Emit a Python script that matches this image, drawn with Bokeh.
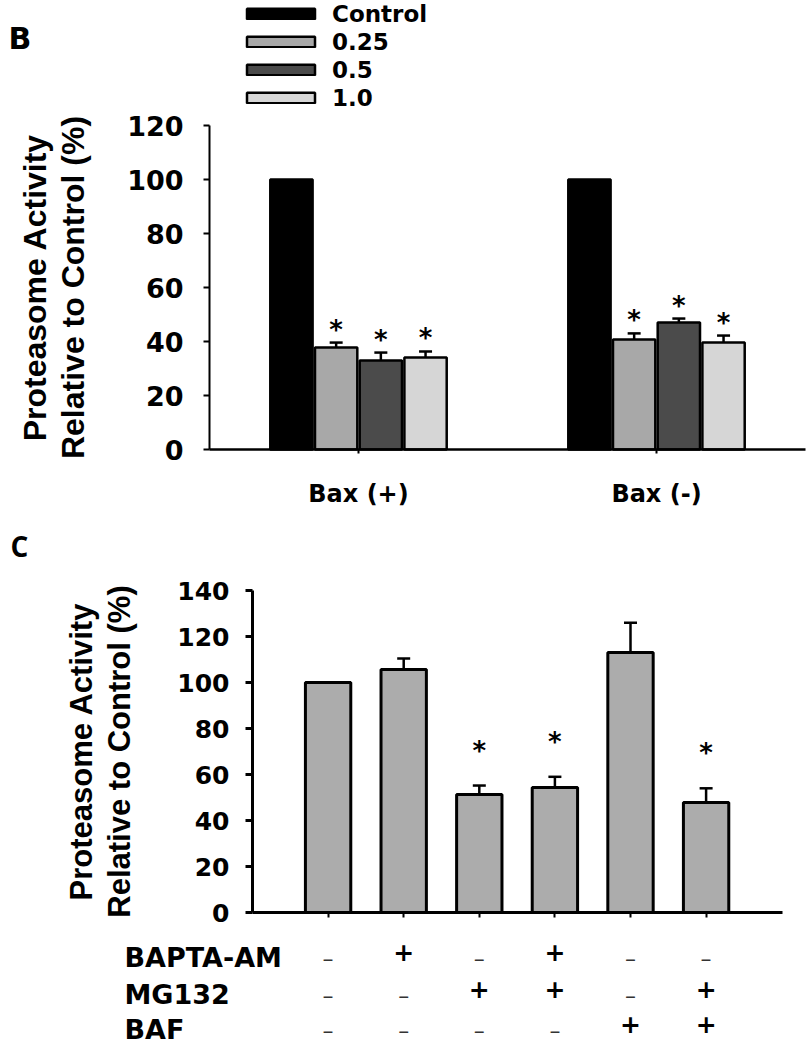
from bokeh.plotting import figure
from bokeh.models import (ColumnDataSource, Whisker, TeeHead, Legend, LegendItem,
                          FixedTicker, Label, Range1d)
from bokeh.layouts import column
from bokeh.embed import file_html
from bokeh.resources import INLINE
from bokeh.core.properties import value

# ---------------- data: panel B ----------------
groups = ["Bax (+)", "Bax (-)"]
doses = ["Control", "0.25", "0.5", "1.0"]
bax_plus = [100.0, 37.8, 33.0, 34.1]
bax_plus_err = [0.0, 1.8, 2.9, 2.2]
bax_minus = [100.0, 40.7, 47.0, 39.6]
bax_minus_err = [0.0, 2.3, 1.5, 2.6]
bax_plus_sig = [False, True, True, True]
bax_minus_sig = [False, True, True, True]
b_yticks = [0, 20, 40, 60, 80, 100, 120]

# ---------------- data: panel C ----------------
c_values = [100.0, 105.6, 51.3, 54.3, 113.0, 47.8]
c_err = [0.0, 4.8, 3.9, 4.7, 13.0, 6.2]
c_sig = [False, False, True, True, False, True]
bapta = ["\u2013", "+", "\u2013", "+", "\u2013", "\u2013"]
mg132 = ["\u2013", "\u2013", "+", "+", "\u2013", "+"]
baf = ["\u2013", "\u2013", "\u2013", "\u2013", "+", "+"]
row_names = ["BAPTA-AM", "MG132", "BAF"]
c_yticks = [0, 20, 40, 60, 80, 100, 120, 140]

# ---------------- styles ----------------
dose_colors = ["#000000", "#a8a8a8", "#4b4b4b", "#d6d6d6"]
c_color = "#acacac"
BOLD = "DejaVu Sans"
TITLE_FONT = "Liberation Sans"
W = 807


def style_axis(ax, label_size, tick_out, standoff, line_w, tick_w):
    ax.major_label_text_font = BOLD
    ax.major_label_text_font_style = "bold"
    ax.major_label_text_font_size = label_size
    ax.major_label_text_color = "black"
    ax.major_label_standoff = standoff
    ax.major_tick_out = tick_out
    ax.major_tick_in = 0
    ax.minor_tick_out = 0
    ax.minor_tick_in = 0
    ax.axis_line_width = line_w
    ax.axis_line_color = "black"
    ax.major_tick_line_width = tick_w
    ax.major_tick_line_color = "black"


def make_fig(h, xr, yr):
    p = figure(width=W, height=h, x_range=Range1d(*xr), y_range=Range1d(*yr),
               output_backend="svg", toolbar_location=None,
               min_border_left=0, min_border_right=0,
               min_border_top=0, min_border_bottom=0)
    p.grid.visible = False
    p.outline_line_color = None
    return p


# ================= Panel B =================
B_H = 515
B_PXU, B_PYU = 298.0, 2.7          # pixels per data unit
B_X1, B_Y0 = 358.0, 449.0          # pixel of x=1 and of y=0


def b_data(px, py):
    return 1 + (px - B_X1) / B_PXU, (B_Y0 - py) / B_PYU


bx0, _ = b_data(0, 0)
bx1, _ = b_data(W, 0)
_, by0 = b_data(0, B_H)
_, by1 = b_data(0, 0)
pB = make_fig(B_H, (bx0, bx1), (by0, by1))

offsets = [-0.225, -0.075, 0.075, 0.225]
bar_renderers = []
for i, d in enumerate(doses):
    xs = [g + 1 + offsets[i] for g in range(len(groups))]
    tops = [bax_plus[i], bax_minus[i]]
    errs = [bax_plus_err[i], bax_minus_err[i]]
    sigs = [bax_plus_sig[i], bax_minus_sig[i]]
    src = ColumnDataSource(dict(x=xs, top=tops))
    r = pB.vbar(x="x", top="top", bottom=0, width=0.142, source=src,
                fill_color=dose_colors[i], line_color="black", line_width=2.5)
    bar_renderers.append(r)
    ex = [x for x, e in zip(xs, errs) if e > 0]
    if ex:
        esrc = ColumnDataSource(dict(
            x=ex,
            lower=[t for t, e in zip(tops, errs) if e > 0],
            upper=[t + e for t, e in zip(tops, errs) if e > 0]))
        pB.add_layout(Whisker(base="x", lower="lower", upper="upper", source=esrc,
                              lower_head=None,
                              upper_head=TeeHead(size=13, line_width=2.5),
                              line_width=2.5))
    sx = [x for x, s in zip(xs, sigs) if s]
    if sx:
        ssrc = ColumnDataSource(dict(
            x=sx, y=[t + e for t, e, s in zip(tops, errs, sigs) if s],
            star=["*"] * len(sx)))
        pB.text(x="x", y="y", text="star", source=ssrc, text_align="center",
                text_baseline="middle", y_offset=-13,
                text_font=value(BOLD), text_font_style="bold",
                text_font_size="26px", text_color="black")

LEG_ITEM_H, LEG_SPACING = 27, 1
leg_h = len(doses) * LEG_ITEM_H + (len(doses) - 1) * LEG_SPACING
legend = Legend(items=[LegendItem(label=value(d), renderers=[r])
                       for d, r in zip(doses, bar_renderers)],
                location=(238, B_H - leg_h), orientation="vertical",
                padding=0, margin=0, spacing=LEG_SPACING,
                glyph_width=85, glyph_height=13, label_standoff=9,
                label_height=LEG_ITEM_H, label_text_font=BOLD,
                label_text_font_style="bold", label_text_font_size="23px",
                label_text_color="black",
                border_line_color=None, background_fill_alpha=0)
pB.add_layout(legend)

y_axis_x, _ = b_data(209, 0)
x_axis_end, _ = b_data(805, 0)

yax = pB.yaxis[0]
yax.fixed_location = y_axis_x
yax.bounds = (0, 120)
yax.ticker = FixedTicker(ticks=b_yticks)
yax.axis_label = "Proteasome Activity\nRelative to Control (%)"
yax.axis_label_text_font = TITLE_FONT
yax.axis_label_text_font_style = "bold"
yax.axis_label_text_font_size = "32px"
yax.axis_label_text_line_height = 1.05
yax.axis_label_text_color = "black"
yax.axis_label_standoff = 33
style_axis(yax, "27px", 6, 20, 2, 2)

xax = pB.xaxis[0]
xax.fixed_location = 0
xax.bounds = (y_axis_x, x_axis_end)
xax.ticker = FixedTicker(ticks=[1, 2])
xax.major_label_overrides = {1: groups[0], 2: groups[1]}
style_axis(xax, "24px", 4, 26, 2.5, 2)

lbx, lby = b_data(8, 38)
pB.add_layout(Label(x=lbx, y=lby, text="B", text_font=BOLD, text_font_style="bold",
                    text_font_size="30px", text_baseline="alphabetic",
                    text_color="black"))

# ================= Panel C =================
C_TOP = B_H                         # page y of panel C's top
C_H = 534
C_PXU, C_PYU = 75.6, 2.3
C_X0, C_Y0 = 252.0, 912.0 - C_TOP   # pixel of x=0 and y=0 within the figure


def c_data(px, py_page):
    return (px - C_X0) / C_PXU, (C_Y0 - (py_page - C_TOP)) / C_PYU


cx0, _ = c_data(0, C_TOP)
cx1, _ = c_data(W, C_TOP)
_, cy0 = c_data(0, C_TOP + C_H)
_, cy1 = c_data(0, C_TOP)
pC = make_fig(C_H, (cx0, cx1), (cy0, cy1))

cx = list(range(1, len(c_values) + 1))
csrc = ColumnDataSource(dict(x=cx, top=c_values))
pC.vbar(x="x", top="top", bottom=0, width=0.6, source=csrc,
        fill_color=c_color, line_color="black", line_width=3)
cex = [x for x, e in zip(cx, c_err) if e > 0]
cesrc = ColumnDataSource(dict(
    x=cex,
    lower=[v for v, e in zip(c_values, c_err) if e > 0],
    upper=[v + e for v, e in zip(c_values, c_err) if e > 0]))
pC.add_layout(Whisker(base="x", lower="lower", upper="upper", source=cesrc,
                      lower_head=None, upper_head=TeeHead(size=13, line_width=2.5),
                      line_width=2.5))
csx = [x for x, s in zip(cx, c_sig) if s]
cssrc = ColumnDataSource(dict(
    x=csx, y=[v + e for v, e, s in zip(c_values, c_err, c_sig) if s],
    star=["*"] * len(csx)))
pC.text(x="x", y="y", text="star", source=cssrc, text_align="center",
        text_baseline="middle", y_offset=-35, text_font=value(BOLD),
        text_font_style="bold", text_font_size="26px", text_color="black")

c_axis_end, _ = c_data(782, C_TOP)

cy = pC.yaxis[0]
cy.fixed_location = 0
cy.bounds = (0, 140)
cy.ticker = FixedTicker(ticks=c_yticks)
cy.axis_label = "Proteasome Activity\nRelative to Control (%)"
cy.axis_label_text_font = TITLE_FONT
cy.axis_label_text_font_style = "bold"
cy.axis_label_text_font_size = "31px"
cy.axis_label_text_line_height = 1.1
cy.axis_label_text_color = "black"
cy.axis_label_standoff = 37
style_axis(cy, "25px", 7, 16, 3, 3)

cxa = pC.xaxis[0]
cxa.fixed_location = 0
cxa.bounds = (0, c_axis_end)
cxa.ticker = FixedTicker(ticks=cx)
cxa.major_label_overrides = {x: "" for x in cx}
style_axis(cxa, "10px", 5, 2, 3, 2)

# treatment table below the bars
row_page_y = [955, 992, 1027]
sign_rows = [bapta, mg132, baf]
plus_x, plus_y, minus_x, minus_y = [], [], [], []
for py, row in zip(row_page_y, sign_rows):
    _, yd = c_data(0, py)
    for x, s in zip(cx, row):
        if s == "+":
            plus_x.append(x)
            plus_y.append(yd)
        else:
            minus_x.append(x)
            minus_y.append(yd)
pC.text(x="x", y="y", text="t",
        source=ColumnDataSource(dict(x=plus_x, y=plus_y, t=["+"] * len(plus_x))),
        text_align="center", text_baseline="middle", y_offset=-4,
        text_font=value(BOLD), text_font_style="bold", text_font_size="25px",
        text_color="black")
pC.text(x="x", y="y", text="t",
        source=ColumnDataSource(dict(x=minus_x, y=minus_y, t=["\u2013"] * len(minus_x))),
        text_align="center", text_baseline="middle", y_offset=3,
        text_font=value(BOLD), text_font_size="22px", text_color="#333333")
for py, name in zip(row_page_y, row_names):
    xd, yd = c_data(124, py + 2)
    pC.add_layout(Label(x=xd, y=yd, text=name, text_align="left", text_baseline="middle",
                        text_font=BOLD, text_font_style="bold", text_font_size="27px",
                        text_color="black"))

lcx, lcy = c_data(10, 545)
pC.add_layout(Label(x=lcx, y=lcy, text="C", text_font="Open Sans",
                    text_font_style="bold", text_font_size="28px",
                    text_baseline="alphabetic", text_color="black"))

layout = column(pB, pC)
open("out.html", "w").write(file_html(layout, INLINE))
